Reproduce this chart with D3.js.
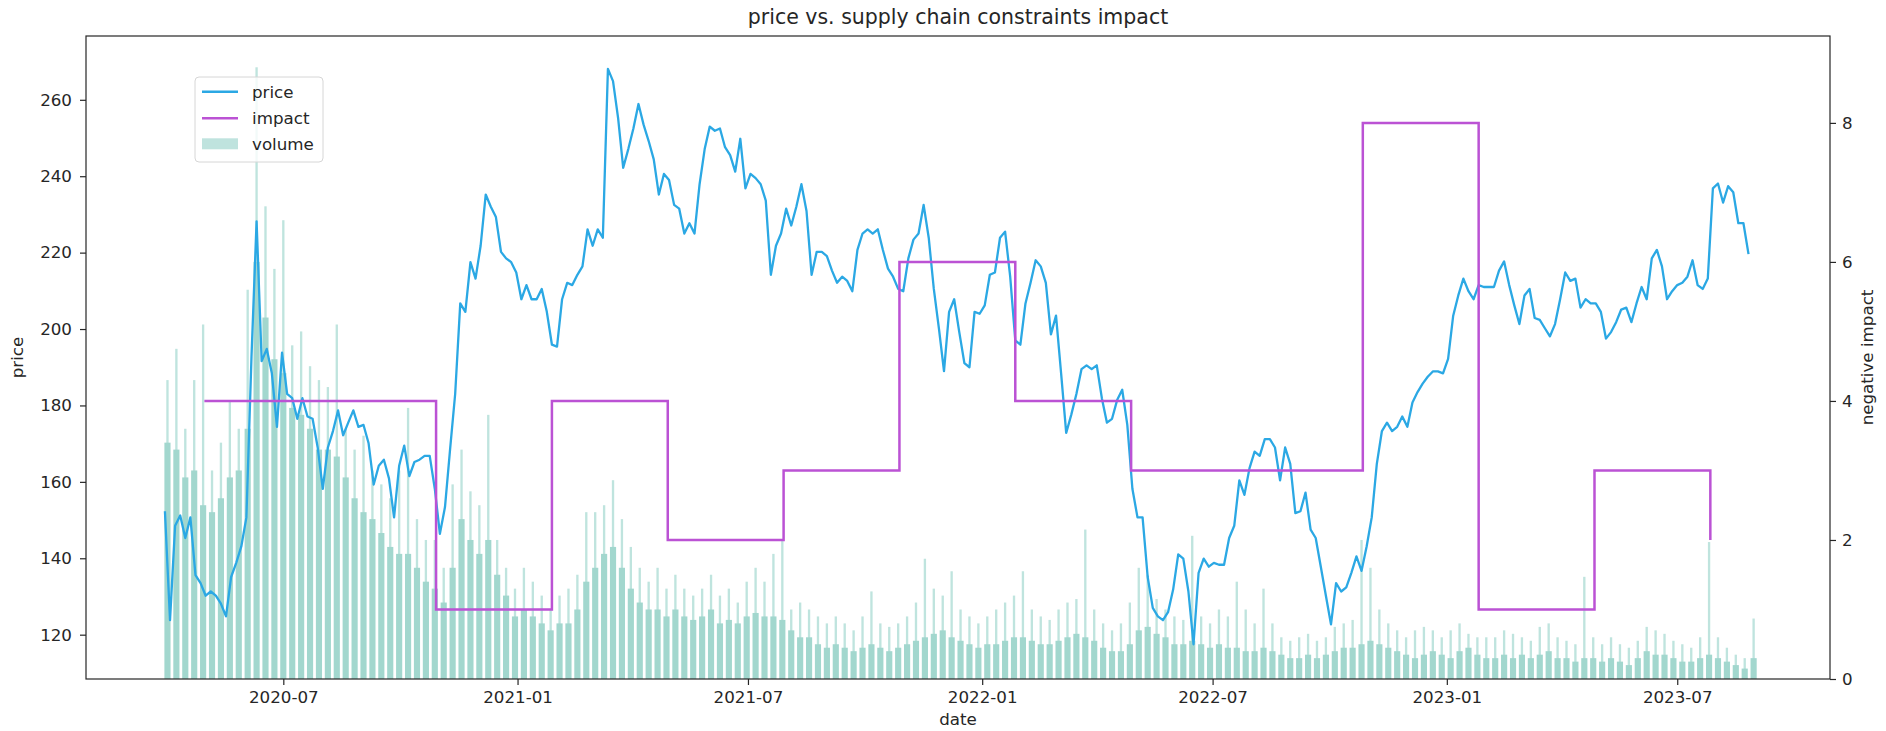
<!DOCTYPE html>
<html>
<head>
<meta charset="utf-8">
<script src="https://cdn.jsdelivr.net/npm/d3@7"></script>
<style>
  body { margin: 0; background: #fff; }
  svg { display: block; font-family: "DejaVu Sans", sans-serif; }
  .axis text { font-size: 16.7px; fill: #262626; font-family: "DejaVu Sans", sans-serif; }
  .axis line { stroke: #262626; stroke-width: 1.2; }
  .label { font-size: 16.7px; fill: #262626; }
  .title { font-size: 20.5px; fill: #262626; }
</style>
</head>
<body>
<div id="chart"></div>
<script>
// price, sampled every 4 days from the first trading day
const priceStart = "2020-03-30"
const priceStepDays = 4
const priceValues = [
  152.3, 123.8, 148.5, 151.2, 145.3, 150.7, 135.6, 133.5, 130.2, 131.3,
  130.2, 128.1, 124.8, 135.1, 138.8, 143.1, 150.7, 192.7, 228.2, 191.6,
  194.8, 188.4, 174.4, 193.8, 183.0, 181.9, 176.5, 181.9, 177.1, 176.5,
  169.0, 158.2, 169.0, 173.3, 178.7, 172.2, 175.5, 178.7, 174.4, 174.9,
  170.1, 159.3, 164.2, 165.8, 160.9, 150.7, 164.2, 169.5, 161.5, 165.2,
  165.8, 166.8, 166.8, 158.2, 146.4, 153.4, 168.5, 183.0, 206.7, 204.5,
  217.5, 213.2, 221.8, 235.2, 232.0, 229.3, 220.2, 218.5, 217.5, 214.8,
  207.8, 211.5, 207.8, 207.8, 210.5, 204.5, 195.9, 195.4, 207.8, 212.1,
  211.5, 214.2, 216.4, 226.1, 221.8, 226.1, 223.9, 268.1, 264.9, 255.2,
  242.2, 247.1, 252.5, 258.9, 253.5, 249.2, 244.4, 235.2, 240.6, 239.0,
  232.5, 231.5, 225.0, 227.7, 225.0, 237.9, 247.1, 253.0, 251.9, 252.5,
  247.6, 245.5, 241.2, 249.8, 236.8, 240.6, 239.5, 237.9, 233.6, 214.2,
  221.8, 225.0, 231.5, 227.1, 232.0, 237.9, 230.9, 214.2, 220.2, 220.2,
  219.1, 215.3, 212.1, 213.7, 212.6, 209.9, 220.7, 225.0, 226.1, 225.0,
  226.1, 220.7, 215.8, 213.7, 210.5, 209.9, 218.5, 223.4, 225.0, 232.5,
  223.9, 210.5, 200.2, 189.0, 204.5, 207.8, 199.2, 191.1, 190.0, 204.5,
  204.0, 206.2, 214.2, 214.8, 223.9, 225.5, 213.7, 197.0, 195.9, 206.7,
  212.1, 218.0, 216.4, 212.1, 198.6, 203.5, 188.4, 172.8, 177.6, 183.0,
  189.5, 190.5, 189.5, 190.5, 181.9, 175.5, 176.5, 181.4, 184.1, 174.9,
  158.2, 150.7, 150.7, 135.1, 127.0, 124.8, 123.8, 125.9, 131.8, 141.0,
  139.9, 131.3, 117.5, 136.2, 139.9, 137.8, 138.8, 138.3, 138.3, 145.3,
  148.5, 160.4, 156.6, 163.6, 167.9, 166.8, 171.2, 171.2, 169.0, 160.4,
  169.0, 164.7, 151.8, 152.3, 157.2, 147.5, 145.3, 137.8, 130.2, 122.7,
  133.5, 131.3, 132.4, 136.2, 140.5, 136.7, 143.1, 150.7, 164.7, 173.3,
  175.5, 173.3, 174.4, 177.1, 174.4, 180.8, 183.5, 185.7, 187.5, 188.9,
  188.9, 188.4, 192.2, 203.5, 208.8, 213.2, 209.9, 207.8, 211.5, 211.0,
  211.0, 211.0, 215.3, 217.7, 211.5, 206.2, 201.3, 208.8, 210.5, 202.9,
  202.4, 200.2, 198.1, 201.3, 207.8, 214.8, 212.6, 213.2, 205.6, 207.8,
  206.7, 206.7, 204.5, 197.5, 199.2, 201.8, 205.1, 205.6, 201.8, 206.7,
  211.0, 207.8, 218.5, 220.7, 216.4, 207.8, 209.9, 211.5, 212.1, 213.7,
  218.0, 211.5, 210.5, 213.2, 236.8, 238.1, 233.1, 237.4, 235.8, 227.7,
  227.7, 219.6
]

// weekly volume (right axis units): usual daily level and the week's highest day
const volumeStart = "2020-03-30"
const volumeTypical = [
  3.4, 3.3, 2.9, 3.0, 2.5, 2.4, 2.6, 2.9, 3.0, 3.6,
  6.0, 5.2, 4.6, 4.4, 3.9, 3.8, 3.6, 3.3, 3.3, 3.2,
  2.9, 2.6, 2.4, 2.3, 2.1, 1.9, 1.8, 1.8, 1.6, 1.4,
  1.3, 1.1, 1.6, 2.3, 2.0, 1.8, 2.0, 1.5, 1.2, 0.9,
  1.0, 0.9, 0.8, 0.7, 0.8, 0.8, 1.0, 1.4, 1.6, 1.8,
  1.9, 1.6, 1.3, 1.1, 1.0, 1.0, 0.9, 1.0, 0.9, 0.85,
  0.9, 1.0, 0.8, 0.85, 0.8, 0.9, 0.95, 0.9, 0.9, 0.85,
  0.7, 0.6, 0.6, 0.5, 0.45, 0.5, 0.45, 0.4, 0.45, 0.5,
  0.45, 0.4, 0.45, 0.5, 0.55, 0.6, 0.65, 0.7, 0.6, 0.55,
  0.5, 0.45, 0.5, 0.5, 0.55, 0.6, 0.6, 0.55, 0.5, 0.5,
  0.55, 0.6, 0.65, 0.6, 0.55, 0.45, 0.4, 0.4, 0.5, 0.7,
  0.75, 0.65, 0.6, 0.5, 0.5, 0.55, 0.5, 0.45, 0.5, 0.45,
  0.45, 0.4, 0.4, 0.45, 0.4, 0.35, 0.3, 0.3, 0.35, 0.3,
  0.35, 0.4, 0.45, 0.45, 0.5, 0.55, 0.5, 0.45, 0.4, 0.35,
  0.3, 0.35, 0.4, 0.35, 0.3, 0.4, 0.45, 0.35, 0.3, 0.3,
  0.35, 0.3, 0.35, 0.3, 0.35, 0.4, 0.3, 0.3, 0.25, 0.3,
  0.3, 0.25, 0.3, 0.25, 0.2, 0.3, 0.4, 0.35, 0.35, 0.3,
  0.25, 0.25, 0.3, 0.35, 0.3, 0.25, 0.2, 0.15, 0.3
]
const volumePeak = [
  4.3, 4.75, 3.6, 4.3, 5.1, 3.0, 3.4, 4.0, 3.6, 5.6,
  8.8, 6.8, 5.9, 6.6, 4.8, 5.0, 4.5, 4.3, 4.2, 5.1,
  3.6, 3.3, 3.5, 3.0, 2.8, 2.6, 3.0, 3.9, 2.3, 2.0,
  2.0, 1.6, 2.8, 3.3, 2.7, 2.5, 3.8, 2.0, 1.6, 1.3,
  1.6, 1.4, 1.2, 1.0, 1.2, 1.3, 1.5, 2.4, 2.4, 2.5,
  2.86, 2.3, 1.9, 1.6, 1.4, 1.6, 1.3, 1.5, 1.3, 1.2,
  1.3, 1.5, 1.2, 1.3, 1.1, 1.4, 1.6, 1.4, 1.8, 2.0,
  1.0, 1.1, 1.0, 0.9, 0.8, 0.9, 0.8, 0.7, 0.9, 1.26,
  0.8, 0.75, 0.8, 0.9, 1.1, 1.73, 1.3, 1.2, 1.55, 1.0,
  0.9, 0.8, 0.9, 1.0, 1.1, 1.2, 1.55, 1.0, 0.9, 0.85,
  1.0, 1.1, 1.15, 2.15, 1.0, 0.8, 0.7, 0.8, 1.1, 1.6,
  1.5, 1.15, 1.0, 0.9, 0.85, 2.06, 0.9, 0.8, 1.0, 0.9,
  1.4, 1.0, 0.8, 1.3, 0.8, 0.6, 0.55, 0.6, 0.65, 0.55,
  0.6, 0.75, 0.8, 0.85, 2.0, 1.6, 1.0, 0.8, 0.7, 0.6,
  0.7, 0.75, 0.7, 0.6, 0.7, 0.8, 0.65, 0.6, 0.6, 0.6,
  0.7, 0.65, 0.6, 0.55, 0.75, 0.8, 0.6, 0.55, 0.5, 1.47,
  0.6, 0.5, 0.6, 0.5, 0.45, 0.55, 0.75, 0.7, 0.65, 0.55,
  0.5, 0.45, 0.6, 1.97, 0.6, 0.45, 0.35, 0.3, 0.87
]

// negative impact score, changes on report dates
const impactDates = [
  "2020-04-30", "2020-10-29", "2021-01-28", "2021-04-29", "2021-07-29", "2021-10-28",
  "2022-01-27", "2022-04-28", "2022-07-28", "2022-10-27", "2023-01-26", "2023-04-27",
  "2023-07-27"
]
const impactValues = [4, 1, 4, 2, 3, 6, 4, 3, 3, 8, 1, 3, 2]

const priceTicks = [120, 140, 160, 180, 200, 220, 240, 260]
const impactTicks = [0, 2, 4, 6, 8]
const dateRange = ["2020-01-28", "2023-10-29"]
const legendItems = ["price", "impact", "volume"]

function drawChart() {
  const parseDate = d3.utcParse("%Y-%m-%d")

  const priceData = priceValues.map((v, i) => ({
    date: d3.utcDay.offset(parseDate(priceStart), priceStepDays * i),
    value: v,
  }))
  const volumeData = volumeTypical.map((v, i) => ({
    date: d3.utcDay.offset(parseDate(volumeStart), 7 * i),
    typical: v,
    peak: volumePeak[i],
  }))
  const impactData = impactDates.map((d, i) => ({
    date: parseDate(d),
    value: impactValues[i],
  }))

  let dimensions = {
    width: 1886,
    height: 731,
    margin: { top: 36, right: 56, bottom: 52, left: 86 },
  }
  dimensions.boundedWidth = dimensions.width - dimensions.margin.left - dimensions.margin.right
  dimensions.boundedHeight = dimensions.height - dimensions.margin.top - dimensions.margin.bottom

  const wrapper = d3.select("#chart")
    .append("svg")
      .attr("width", dimensions.width)
      .attr("height", dimensions.height)

  const bounds = wrapper.append("g")
    .attr("transform", `translate(${dimensions.margin.left},${dimensions.margin.top})`)

  // scales
  const xScale = d3.scaleUtc()
    .domain(dateRange.map(parseDate))
    .range([0, dimensions.boundedWidth])
  const yScale = d3.scaleLinear()
    .domain([108.4, 276.7])
    .range([dimensions.boundedHeight, 0])
  const y2Scale = d3.scaleLinear()
    .domain([0, 9.25])
    .range([dimensions.boundedHeight, 0])

  const priceColor = "#2ba8e4"
  const impactColor = "#bb52d4"
  const volumeColor = "#a2d7ce"
  const volumePeakColor = "#bfe4de"

  bounds.append("clipPath").attr("id", "plot-clip")
    .append("rect")
      .attr("width", dimensions.boundedWidth)
      .attr("height", dimensions.boundedHeight)

  const plot = bounds.append("g").attr("clip-path", "url(#plot-clip)")

  // volume: thin bar for the week's highest day, block for the usual days
  const weekX = (d, hours) => xScale(d3.utcHour.offset(d.date, hours))
  plot.append("g").selectAll("rect")
    .data(volumeData)
    .join("rect")
      .attr("x", d => weekX(d, 26))
      .attr("width", d => weekX(d, 70) - weekX(d, 26))
      .attr("y", d => y2Scale(d.peak))
      .attr("height", d => y2Scale(0) - y2Scale(d.peak))
      .attr("fill", volumePeakColor)
  plot.append("g").selectAll("rect")
    .data(volumeData)
    .join("rect")
      .attr("x", d => weekX(d, -10))
      .attr("width", d => weekX(d, 106) - weekX(d, -10))
      .attr("y", d => y2Scale(d.typical))
      .attr("height", d => y2Scale(0) - y2Scale(d.typical))
      .attr("fill", volumeColor)

  // price line
  const priceLine = d3.line()
    .x(d => xScale(d.date))
    .y(d => yScale(d.value))
  plot.append("path")
    .attr("d", priceLine(priceData))
    .attr("fill", "none")
    .attr("stroke", priceColor)
    .attr("stroke-width", 2.3)
    .attr("stroke-linejoin", "round")

  // impact step line
  const impactLine = d3.line()
    .x(d => xScale(d.date))
    .y(d => y2Scale(d.value))
    .curve(d3.curveStepAfter)
  plot.append("path")
    .attr("d", impactLine(impactData))
    .attr("fill", "none")
    .attr("stroke", impactColor)
    .attr("stroke-width", 2.5)

  // axes
  const xAxis = bounds.append("g")
    .attr("class", "axis")
    .attr("transform", `translate(0,${dimensions.boundedHeight})`)
    .call(d3.axisBottom(xScale)
      .ticks(d3.utcMonth.every(6))
      .tickFormat(d3.utcFormat("%Y-%m"))
      .tickSize(6)
      .tickPadding(6))
  const yAxis = bounds.append("g")
    .attr("class", "axis")
    .call(d3.axisLeft(yScale)
      .tickValues(priceTicks)
      .tickSize(6)
      .tickPadding(8))
  const y2Axis = bounds.append("g")
    .attr("class", "axis")
    .attr("transform", `translate(${dimensions.boundedWidth},0)`)
    .call(d3.axisRight(y2Scale)
      .tickValues(impactTicks)
      .tickSize(6)
      .tickPadding(6))
  ;[xAxis, yAxis, y2Axis].forEach(a => {
    a.attr("font-size", null).attr("font-family", null)
    a.select(".domain").remove()
  })

  // frame
  bounds.append("rect")
    .attr("width", dimensions.boundedWidth)
    .attr("height", dimensions.boundedHeight)
    .attr("fill", "none")
    .attr("stroke", "#262626")
    .attr("stroke-width", 1.2)

  // labels
  wrapper.append("text")
    .attr("class", "title")
    .attr("x", dimensions.margin.left + dimensions.boundedWidth / 2)
    .attr("y", 24)
    .attr("text-anchor", "middle")
    .text("price vs. supply chain constraints impact")
  wrapper.append("text")
    .attr("class", "label")
    .attr("x", dimensions.margin.left + dimensions.boundedWidth / 2)
    .attr("y", 725)
    .attr("text-anchor", "middle")
    .text("date")
  wrapper.append("text")
    .attr("class", "label")
    .attr("transform", `translate(23,${dimensions.margin.top + dimensions.boundedHeight / 2}) rotate(-90)`)
    .attr("text-anchor", "middle")
    .text("price")
  wrapper.append("text")
    .attr("class", "label")
    .attr("transform", `translate(1873,${dimensions.margin.top + dimensions.boundedHeight / 2}) rotate(-90)`)
    .attr("text-anchor", "middle")
    .text("negative impact")

  // legend
  const legend = wrapper.append("g").attr("transform", "translate(195,77)")
  legend.append("rect")
    .attr("width", 128)
    .attr("height", 85)
    .attr("rx", 4)
    .attr("fill", "white")
    .attr("fill-opacity", 0.8)
    .attr("stroke", "#d6d6d6")
  const rowY = [14.7, 41.3, 66.8]
  legendItems.forEach((name, i) => {
    if (name === "volume") {
      legend.append("rect")
        .attr("x", 7).attr("y", rowY[i] - 5.5)
        .attr("width", 36).attr("height", 11)
        .attr("fill", "#bfe3de")
    } else {
      legend.append("line")
        .attr("x1", 7).attr("x2", 43)
        .attr("y1", rowY[i]).attr("y2", rowY[i])
        .attr("stroke", name === "price" ? priceColor : impactColor)
        .attr("stroke-width", 2.5)
    }
    legend.append("text")
      .attr("class", "label")
      .attr("x", 57)
      .attr("y", rowY[i])
      .attr("dy", "0.35em")
      .text(name)
  })
}

drawChart()
</script>
</body>
</html>
